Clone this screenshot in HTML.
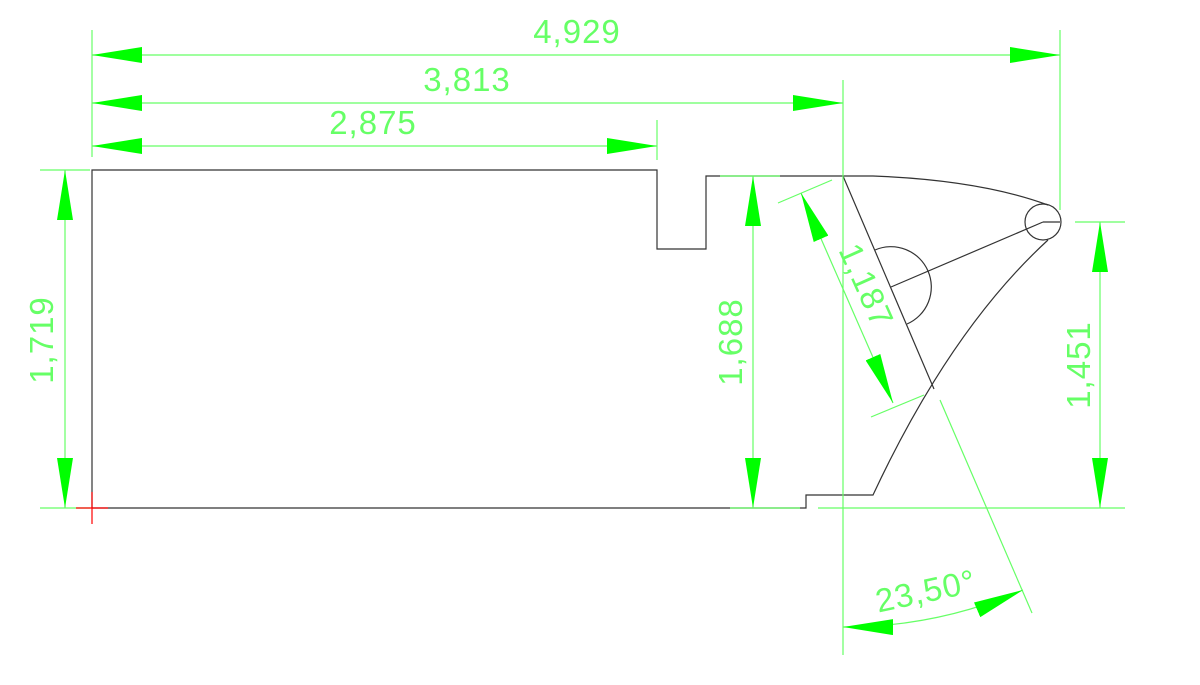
<!DOCTYPE html>
<html><head><meta charset="utf-8"><style>html,body{margin:0;padding:0;background:#fff}svg{display:block}</style></head>
<body>
<svg width="1200" height="685" viewBox="0 0 1200 685" xmlns="http://www.w3.org/2000/svg">
<defs>
<marker id="a" viewBox="0 0 50 16" refX="50" refY="8" markerWidth="50" markerHeight="16" markerUnits="userSpaceOnUse" orient="auto-start-reverse"><path d="M50,8 L0,0 L0,16 Z" fill="#00ff00"/></marker>
</defs>
<g stroke="#333" stroke-width="1.2" fill="none">
<path d="M92,508 L92,170 L657,170 L657,249 L706,249 L706,176 L843,176 L873,176 Q980,180 1048,205"/>
<circle cx="1043" cy="222" r="18"/>
<path d="M1060,222 L1043,222"/>
<path d="M1048,240 Q950,330 873,495 L806,495 L806,508 L92,508"/>
<path d="M843,176 L934,389"/>
<path d="M1043,222 L891,287"/>
<path d="M875,250 A40,40 0 0 1 907,324"/>
</g>
<g stroke="#66ff66" stroke-width="1.2" fill="none">
<path d="M92,30 L92,157"/>
<path d="M1060,30 L1060,210"/>
<path d="M843,80 L843,655"/>
<path d="M657,120 L657,160"/>
<path d="M40,170 L90,170"/>
<path d="M40,508 L90,508"/>
<path d="M720,176 L780,176"/>
<path d="M730,508 L800,508"/>
<path d="M1075,222 L1125,222"/>
<path d="M818,508 L1125,508"/>
<path d="M778,203 L832,180"/>
<path d="M871,417 L924,395"/>
<path d="M940,400 L1032,613"/>
<path d="M92,55 L1060,55" marker-start="url(#a)" marker-end="url(#a)"/>
<path d="M92,103 L843,103" marker-start="url(#a)" marker-end="url(#a)"/>
<path d="M92,146 L657,146" marker-start="url(#a)" marker-end="url(#a)"/>
<path d="M65,170 L65,508" marker-start="url(#a)" marker-end="url(#a)"/>
<path d="M753,176 L753,508" marker-start="url(#a)" marker-end="url(#a)"/>
<path d="M1100,222 L1100,508" marker-start="url(#a)" marker-end="url(#a)"/>
<path d="M801,193 L893,403" marker-start="url(#a)" marker-end="url(#a)"/>
<path d="M843,627 A452,452 0 0 0 1023,590" marker-start="url(#a)" marker-end="url(#a)"/>
</g>
<g stroke="#ff0000" stroke-width="1.2"><path d="M76,508 L108,508 M92,492 L92,524"/></g>
<g fill="#66ff66" font-family="Liberation Sans, sans-serif" font-size="33" text-anchor="middle" letter-spacing="1">
<text x="577" y="43">4,929</text>
<text x="467" y="91">3,813</text>
<text x="373" y="134">2,875</text>
<text transform="translate(53,340) rotate(-90)">1,719</text>
<text transform="translate(742,342) rotate(-90)">1,688</text>
<text transform="translate(1090,365) rotate(-90)">1,451</text>
<text transform="translate(856,290) rotate(66)">1,187</text>
<text transform="translate(928,602) rotate(-12)">23,50°</text>
</g>
</svg>
</body></html>
